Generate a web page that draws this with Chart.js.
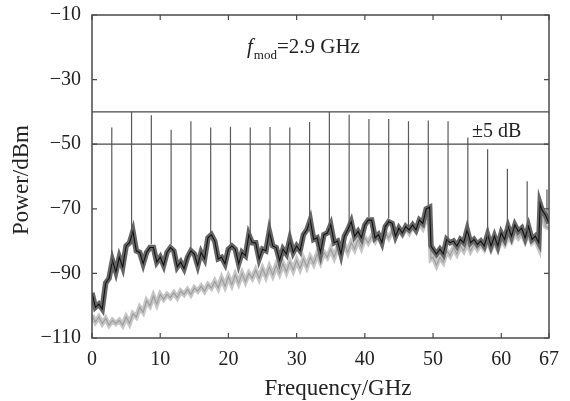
<!DOCTYPE html>
<html>
<head>
<meta charset="utf-8">
<script src="https://cdn.jsdelivr.net/npm/chart.js"></script>
<style>
  body { margin: 0; background: #fff; }
  #wrap { width: 570px; height: 401px; }
</style>
</head>
<body>
<div id="wrap"><canvas id="spec" width="570" height="401"></canvas></div>
<script>
// frequency grid (GHz) of the two traces
const freq = [
  0,0.5,1,1.5,2,2.5,3,3.5,4,4.5,5,5.5,6,6.5,7,7.5,8,8.5,9,9.5,
  10,10.5,11,11.5,12,12.5,13,13.5,14,14.5,15,15.5,16,16.5,17,17.5,18,18.5,19,19.5,
  20,20.5,21,21.5,22,22.5,23,23.5,24,24.5,25,25.5,26,26.5,27,27.5,28,28.5,29,29.5,
  30,30.5,31,31.5,32,32.5,33,33.5,34,34.5,35,35.5,36,36.5,37,37.5,38,38.5,39,39.5,
  40,40.5,41,41.5,42,42.5,43,43.5,44,44.5,45,45.5,46,46.5,47,47.5,48,48.5,49,49.5,
  49.7,
  50,50.5,51,51.5,52,52.5,53,53.5,54,54.5,55,55.5,56,56.5,57,57.5,
  58,58.5,59,59.5,60,60.5,61,61.5,62,62.5,63,63.5,64,64.5,65,65.5,
  65.7,66,66.5,67
];

// modulated spectrum floor (black trace), dBm
const blackP = [
  -96,-100.5,-99.5,-101,-93,-91.5,-86,-89.5,-85,-88,-81.5,-80.5,-77,-83,-83.5,-87,-83.5,-82,-82,-86.5,
  -85,-87.5,-83.5,-82,-83,-88,-86.5,-88.5,-85,-83,-84,-87.5,-83.5,-85.5,-79,-78,-80,-85.5,-85,-87,
  -82.5,-81.5,-82.5,-87,-83.5,-84.5,-78,-80.5,-80.5,-85.5,-82.5,-83,-77,-81.5,-82,-86,-82.5,-84,-79.5,-83.5,
  -81.5,-83,-78,-76.5,-73.5,-79.5,-79,-83.5,-78,-77.5,-75,-80.5,-80,-84,-78.5,-76.5,-74,-78.5,-77,-79,
  -75,-73.5,-73.5,-79,-78,-80.5,-75.5,-74,-74.5,-78.5,-76,-77.5,-75.5,-76.5,-75,-76.5,-73.5,-74.5,-70,-69.5,
  -81.5,
  -82.5,-84,-82.5,-84,-79.5,-80.5,-80,-81.5,-79.5,-80.5,-76.5,-80.5,-79.5,-81,-80,-81.5,
  -78,-81.5,-78.5,-81.5,-77.5,-79.5,-75.5,-78.5,-75,-77,-76,-79,-75.5,-79.5,-78.5,-80.5,
  -68.5,-70.5,-72,-74.5
];

// reference floor (grey trace), dBm
const greyP = [
  -103,-105,-103.5,-105.5,-104,-106,-104.5,-105.5,-104.5,-106,-103.5,-105.5,-102.5,-103.5,-100.5,-102,-98.5,-100,-97,-99.5,
  -96.5,-98,-96.5,-97.5,-96,-97.5,-95.5,-96.5,-95,-96.5,-94.5,-95.5,-94,-95.5,-93.5,-94.5,-92.5,-94.5,-91.5,-94,
  -91,-93.5,-90.5,-93,-90,-92.5,-90,-91.5,-89,-91.5,-88.5,-91,-88,-90.5,-87.5,-90,-87,-89.5,-86.5,-89,
  -86,-88.5,-85.5,-88,-85,-87,-84,-86.5,-83.5,-85,-82.5,-85,-82,-84,-81,-83.5,-80.5,-82.5,-79.5,-82,
  -79,-80.5,-78.5,-80,-78,-79.5,-77.5,-79,-77,-78.5,-76.5,-78,-76,-77.5,-75.5,-77,-74.5,-76,-73,-74,
  -85.5,
  -85,-87.5,-85,-86.5,-83,-84.5,-82,-84,-81.5,-83,-80.5,-83,-81,-82.5,-81,-82.5,
  -80,-82.5,-80,-82.5,-79.5,-81,-78.5,-80,-77.5,-79,-77.5,-80,-77.5,-80.5,-79.5,-82,
  -71,-70.5,-75.5,-76
];

// comb lines (multiples of 2.9 GHz)
const peakFreq = [2.9,5.8,8.7,11.6,14.5,17.4,20.3,23.2,26.1,29.0,31.9,34.8,37.7,40.6,43.5,46.4,49.3,52.2,55.1,58.0,60.9,63.8,66.7];
const peakTop  = [-44.8,-40,-41,-45.5,-42.9,-44.8,-44.6,-44.8,-44.7,-44.8,-43.1,-40,-40.9,-42.2,-42.2,-42.9,-42.7,-42.9,-47.9,-51.6,-57.6,-61.5,-64];
const peakBase = [-87,-78,-81,-81,-82,-78,-81,-79,-78,-80.5,-75,-76,-75,-72.5,-73,-75.5,-69.5,-80,-77,-79,-76.5,-77,-72];

// ±5 dB flatness limits
const limitLevels = [-40, -50];

const xTicks = [0, 10, 20, 30, 40, 50, 60, 67];
const yTicks = [-110, -90, -70, -50, -30, -10];

const serif = '"Liberation Serif", "Times New Roman", serif';

function trace(vals) {
  return freq.map((f, i) => ({ x: f, y: vals[i] }));
}

const combPts = [];
peakFreq.forEach((f, i) => {
  combPts.push({ x: f, y: peakBase[i] }, { x: f, y: peakTop[i] }, { x: f, y: null });
});

const limitPts = [];
limitLevels.forEach(v => {
  limitPts.push({ x: 0, y: v }, { x: 67, y: v }, { x: 67, y: null });
});

const decor = {
  id: 'decor',
  afterDatasetsDraw(chart) {
    const { ctx, chartArea: a, scales: { x, y } } = chart;
    ctx.save();
    ctx.strokeStyle = '#4a4a4a';
    ctx.lineWidth = 1.5;
    ctx.strokeRect(a.left, a.top, a.right - a.left, a.bottom - a.top);
    ctx.lineWidth = 1.2;
    ctx.beginPath();
    xTicks.forEach(v => {
      const px = x.getPixelForValue(v);
      ctx.moveTo(px, a.bottom); ctx.lineTo(px, a.bottom - 5);
      ctx.moveTo(px, a.top); ctx.lineTo(px, a.top + 5);
    });
    yTicks.forEach(v => {
      const py = y.getPixelForValue(v);
      ctx.moveTo(a.left, py); ctx.lineTo(a.left + 5, py);
      ctx.moveTo(a.right, py); ctx.lineTo(a.right - 5, py);
    });
    ctx.stroke();

    ctx.fillStyle = '#222';
    ctx.textBaseline = 'alphabetic';
    // f_mod label
    let tx = 247;
    ctx.font = 'italic 21px ' + serif;
    ctx.fillText('f', tx, 53);
    tx += ctx.measureText('f').width + 1;
    ctx.font = '13px ' + serif;
    ctx.fillText('mod', tx, 59);
    tx += ctx.measureText('mod').width;
    ctx.font = '21px ' + serif;
    ctx.fillText('=2.9 GHz', tx, 53);
    // flatness label
    ctx.font = '20px ' + serif;
    ctx.fillText('\u00b15 dB', 472, 137);

    // axis titles
    ctx.font = '23px ' + serif;
    ctx.textAlign = 'center';
    ctx.fillText('Frequency/GHz', 338, 395);
    ctx.translate(28, 180);
    ctx.rotate(-Math.PI / 2);
    ctx.fillText('Power/dBm', 0, 0);
    ctx.restore();
  }
};

new Chart(document.getElementById('spec'), {
  type: 'line',
  data: {
    datasets: [
      { data: limitPts, borderColor: '#4a4a4a', borderWidth: 1.3, order: 1, spanGaps: false },
      { data: combPts, borderColor: '#5a5a5a', borderWidth: 1.2, order: 2, spanGaps: false },
      { data: trace(blackP), borderColor: '#111', borderWidth: 1.1, order: 3 },
      { data: trace(blackP), borderColor: '#666', borderWidth: 5.5, order: 4 },
      { data: trace(greyP), borderColor: '#9c9c9c', borderWidth: 1.1, order: 5 },
      { data: trace(greyP), borderColor: '#c6c6c6', borderWidth: 5, order: 6 }
    ]
  },
  options: {
    responsive: false,
    animation: false,
    elements: { point: { radius: 0 }, line: { tension: 0, borderJoinStyle: 'miter' } },
    layout: { padding: { top: 15, right: 21, left: 0, bottom: 0 } },
    plugins: { legend: { display: false }, tooltip: { enabled: false } },
    scales: {
      x: {
        type: 'linear', min: 0, max: 67,
        grid: { display: false, drawTicks: false },
        border: { display: false },
        afterBuildTicks: s => { s.ticks = xTicks.map(v => ({ value: v })); },
        afterFit: s => { s.height = 63; s.paddingLeft = 0; s.paddingRight = 0; },
        ticks: { font: { family: serif, size: 20 }, color: '#222', padding: 10, maxRotation: 0, autoSkip: false }
      },
      y: {
        min: -110, max: -10,
        grid: { display: false, drawTicks: false },
        border: { display: false },
        afterBuildTicks: s => { s.ticks = yTicks.map(v => ({ value: v })); },
        afterFit: s => { s.width = 92; s.paddingTop = 0; s.paddingBottom = 0; },
        ticks: {
          font: { family: serif, size: 20 }, color: '#222', padding: 11,
          callback: v => (v < 0 ? '\u2212' : '') + Math.abs(v)
        }
      }
    }
  },
  plugins: [decor]
});
</script>
</body>
</html>
